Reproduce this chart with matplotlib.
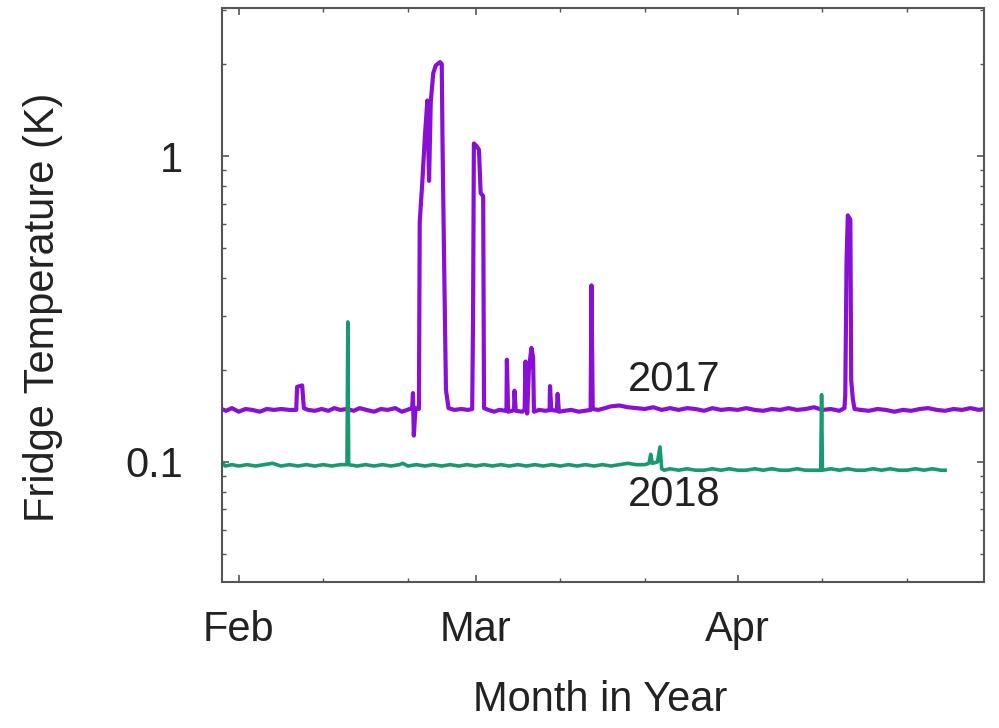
import datetime
import matplotlib
matplotlib.use('Agg')
import matplotlib.pyplot as plt
import matplotlib.dates as mdates
from matplotlib.ticker import FixedLocator, FixedFormatter, LogLocator, NullFormatter

plt.rcParams['font.family'] = ['Liberation Sans', 'DejaVu Sans']

# days after 1 Feb, fridge temperature in K
days_2017 = [-2.0, -1.5, -0.8, 0.0, 0.8, 1.6, 2.5, 3.3, 4.2, 5.0, 6.0, 6.8,
             6.9, 7.5, 7.7, 8.2, 9.0, 9.8, 10.6, 11.3, 12.0, 12.8, 13.6, 14.3,
             15.1, 16.0, 16.8, 17.6, 18.5, 19.3, 20.5, 20.6, 20.7, 20.9, 21.3,
             21.4, 21.7, 22.0, 22.3, 22.5, 22.7, 23.0, 23.3, 23.8, 24.0, 24.1,
             24.3, 24.5, 24.8, 25.5, 26.3, 27.1, 27.6, 27.7, 27.8, 28.1, 28.4,
             28.6, 28.9, 29.0, 29.5, 30.2, 30.8, 31.6, 31.65, 31.7, 31.85, 32.3,
             32.55, 32.6, 32.75, 33.5, 33.8, 33.9, 34.1, 34.3, 34.6, 34.8, 34.9,
             35.5, 36.3, 36.75, 36.8, 36.95, 37.6, 37.7, 37.85, 38.5, 39.3, 40.2,
             41.6, 41.7, 41.85, 42.5, 43.3, 44.0, 45.0, 46.0, 47.0, 48.0, 49.0,
             50.0, 51.0, 52.0, 53.0, 54.0, 55.0, 56.0, 57.0, 58.0, 59.0, 60.0,
             61.0, 62.0, 63.0, 64.0, 65.0, 66.0, 67.0, 68.0, 69.0, 70.0, 71.0,
             71.6, 71.7, 71.85, 72.0, 72.3, 72.4, 72.6, 72.8, 73.5, 74.5, 75.5,
             76.5, 77.5, 78.5, 79.5, 80.5, 81.5, 82.5, 83.5, 84.5, 85.5, 86.5,
             87.5, 88.1]
temp_2017 = [0.149, 0.147, 0.150, 0.146, 0.149, 0.148, 0.146, 0.149, 0.148, 0.149, 0.148, 0.148,
             0.176, 0.178, 0.150, 0.148, 0.147, 0.149, 0.147, 0.150, 0.148, 0.149, 0.147, 0.150,
             0.148, 0.146, 0.149, 0.148, 0.150, 0.146, 0.150, 0.168, 0.122, 0.150, 0.149,
             0.61, 0.82, 1.15, 1.52, 0.83, 1.50, 1.87, 1.98, 2.03, 2.00, 1.07,
             0.415, 0.172, 0.150, 0.148, 0.149, 0.148, 0.149, 0.29, 1.10, 1.08, 1.05,
             0.757, 0.74, 0.150, 0.148, 0.146, 0.148, 0.147, 0.148, 0.216, 0.146, 0.147,
             0.148, 0.171, 0.147, 0.146, 0.148, 0.213, 0.144, 0.20, 0.236, 0.22, 0.146,
             0.148, 0.147, 0.148, 0.177, 0.148, 0.147, 0.167, 0.146, 0.147, 0.148, 0.146,
             0.148, 0.378, 0.149, 0.148, 0.150, 0.152, 0.153, 0.151, 0.150, 0.149, 0.151,
             0.148, 0.150, 0.148, 0.150, 0.149, 0.147, 0.150, 0.148, 0.149, 0.148, 0.150,
             0.148, 0.147, 0.149, 0.148, 0.150, 0.148, 0.149, 0.151, 0.148, 0.149, 0.147,
             0.150, 0.165, 0.45, 0.64, 0.62, 0.185, 0.160, 0.149, 0.148, 0.147, 0.149,
             0.148, 0.146, 0.148, 0.147, 0.149, 0.150, 0.148, 0.147, 0.149, 0.148, 0.150,
             0.148, 0.149]

days_2018 = [-2.0, -1.6, -0.8, 0.0, 1.0, 2.0, 3.0, 4.0, 5.0, 6.0, 7.0, 8.0,
             9.0, 10.0, 11.0, 12.0, 12.8, 12.9, 13.0, 14.0, 15.0, 16.0, 17.0, 18.0,
             19.0, 19.4, 20.0, 21.0, 22.0, 23.0, 24.0, 25.0, 26.0, 27.0, 28.0, 29.0,
             30.0, 31.0, 32.0, 33.0, 34.0, 35.0, 36.0, 37.0, 38.0, 39.0, 40.0, 41.0,
             42.0, 43.0, 44.0, 45.0, 46.0, 47.0, 48.0, 48.5, 48.7, 48.9, 49.5, 49.8,
             50.0, 50.3, 51.0, 52.0, 53.0, 54.0, 55.0, 56.0, 57.0, 58.0, 59.0, 60.0,
             61.0, 62.0, 63.0, 64.0, 65.0, 66.0, 67.0, 68.0, 68.8, 68.9, 69.0, 70.0,
             71.0, 72.0, 73.0, 74.0, 75.0, 76.0, 77.0, 78.0, 79.0, 80.0, 81.0, 82.0,
             83.0, 83.5]
temp_2018 = [0.100, 0.097, 0.098, 0.097, 0.098, 0.097, 0.098, 0.099, 0.097, 0.098, 0.097, 0.098,
             0.097, 0.098, 0.097, 0.098, 0.098, 0.287, 0.098, 0.097, 0.098, 0.097, 0.098, 0.097,
             0.098, 0.099, 0.097, 0.098, 0.097, 0.098, 0.097, 0.098, 0.097, 0.098, 0.097, 0.098,
             0.097, 0.098, 0.097, 0.098, 0.097, 0.098, 0.097, 0.098, 0.097, 0.098, 0.097, 0.098,
             0.097, 0.098, 0.097, 0.098, 0.099, 0.098, 0.098, 0.099, 0.106, 0.099, 0.100, 0.112,
             0.095, 0.094, 0.095, 0.094, 0.095, 0.094, 0.094, 0.095, 0.094, 0.095, 0.094, 0.094,
             0.095, 0.094, 0.095, 0.094, 0.094, 0.095, 0.094, 0.094, 0.094, 0.166, 0.094, 0.095,
             0.094, 0.095, 0.094, 0.094, 0.095, 0.094, 0.095, 0.094, 0.094, 0.095, 0.094, 0.095,
             0.094, 0.094]

start = mdates.date2num(datetime.datetime(2017, 2, 1))
x17 = [start + d for d in days_2017]
x18 = [start + d for d in days_2018]

fig = plt.figure(figsize=(9.99, 7.28), dpi=100)
ax = fig.add_axes([0.222, 0.2005, 0.763, 0.7885])

ax.plot(x17, temp_2017, color='#8a0fd6', lw=3.0)
ax.plot(x18, temp_2018, color='#179a70', lw=2.6)

ax.set_yscale('log')
ax.set_ylim(0.0405, 3.05)
ax.set_xlim(start - 2.0, start + 88.1)

ax.yaxis.set_major_locator(FixedLocator([0.1, 1]))
ax.yaxis.set_major_formatter(FixedFormatter(['0.1', '1']))
ax.yaxis.set_minor_locator(LogLocator(base=10, subs=range(2, 10)))
ax.yaxis.set_minor_formatter(NullFormatter())

ax.xaxis.set_major_locator(mdates.MonthLocator())
ax.xaxis.set_major_formatter(mdates.DateFormatter('%b'))
ax.xaxis.set_minor_locator(mdates.DayLocator(bymonthday=[11, 21]))

for s in ax.spines.values():
    s.set_color('#555555')
    s.set_linewidth(1.5)

ax.tick_params(which='both', direction='in', top=True, right=True, color='#555555')
ax.tick_params(which='major', length=5, width=1.2)
ax.tick_params(which='minor', length=3, width=1.0)
ax.tick_params(axis='x', which='major', labelsize=30, pad=20, labelcolor='#222222')
ax.tick_params(axis='y', which='major', labelsize=30, pad=28, labelcolor='#222222')

ax.set_xlabel('Month in Year', fontsize=30, color='#222222')
ax.set_ylabel('Fridge Temperature (K)', fontsize=30, color='#222222')
ax.xaxis.set_label_coords(0.497, -0.171)
ax.yaxis.set_label_coords(-0.208, 0.479)

ax.text(start + 51.5, 0.185, '2017', fontsize=30, color='#222222', ha='center', va='center')
ax.text(start + 51.5, 0.078, '2018', fontsize=30, color='#222222', ha='center', va='center')

fig.savefig('out.png', dpi=100)
